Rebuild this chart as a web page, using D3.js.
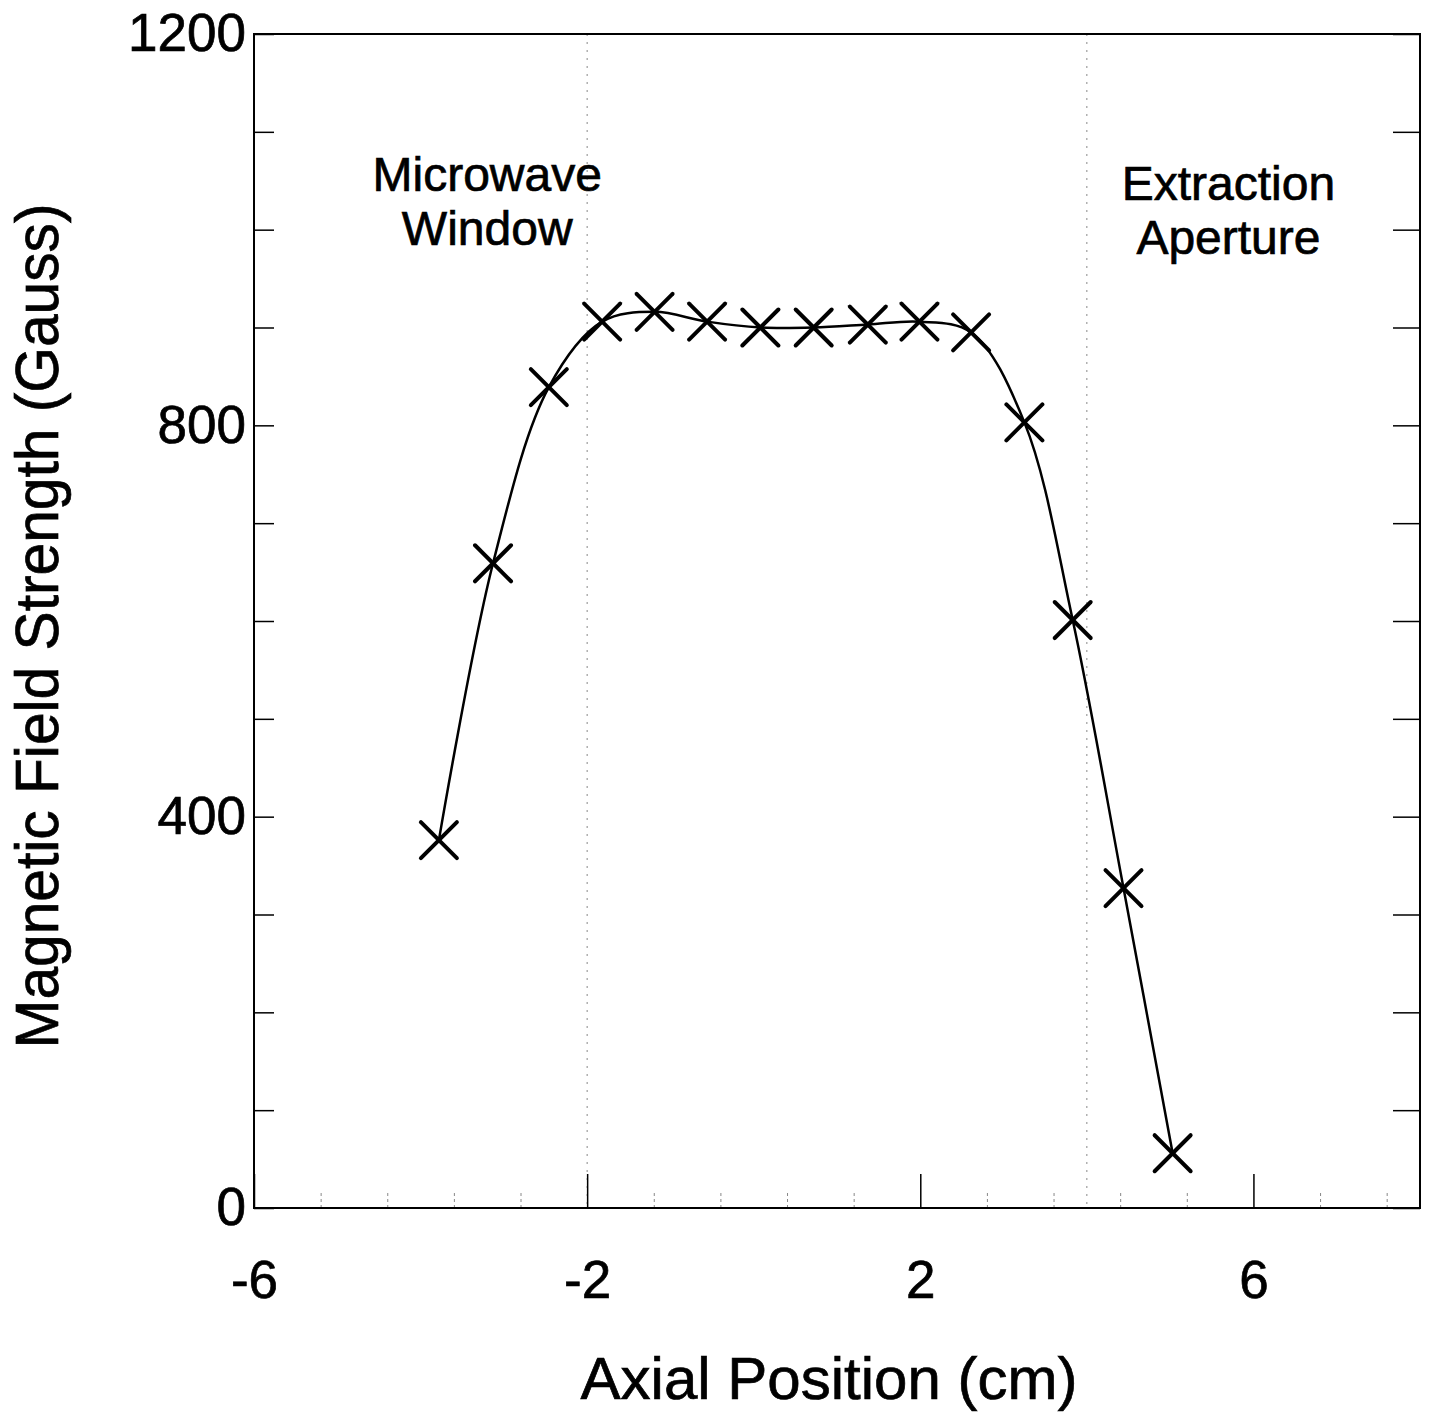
<!DOCTYPE html>
<html>
<head>
    <title>Magnetic Field Strength vs Axial Position</title>
    <script src="https://cdnjs.cloudflare.com/ajax/libs/d3/7.8.5/d3.min.js"></script>
    <style>
        body { margin: 0; background: #fff; }
        text { font-family: "Liberation Sans", Arial, Helvetica, sans-serif; fill: #000; stroke: #000; stroke-width: 0.7; }
        .frame { fill: none; stroke: #000; stroke-width: 2; }
        .tick line { stroke: #000; stroke-width: 1.5; }
        .minor .tick line { stroke: #888; stroke-width: 1; stroke-dasharray: 3 3; }
        .grid-line { stroke: #888; stroke-width: 1; stroke-dasharray: 2 6; }
        .field-line { fill: none; stroke: #000; stroke-width: 2.5; }
        .marker { stroke: #000; stroke-width: 4; stroke-linecap: round; }
    </style>
</head>
<body>
    <div id="chart"></div>
    <script>
        // Measured points (cm, Gauss)
        const axialPos = [-3.78, -3.13, -2.46, -1.82, -1.19, -0.56, 0.08, 0.72, 1.37, 1.99, 2.61, 3.25, 3.83, 4.44, 5.03];
        const fieldGauss = [376, 659, 839, 906, 916, 906, 900, 900, 903, 906, 895, 803, 601, 327, 56];

        const xMajorTicks = [-6, -2, 2, 6];
        const xMinorTicks = [-5.2, -4.4, -3.6, -2.8, -1.2, -0.4, 0.4, 1.2, 2.8, 3.6, 4.4, 5.2, 6.8, 7.6];
        const yMajorTicks = [0, 400, 800, 1200];
        const yMinorTicks = [100, 200, 300, 500, 600, 700, 900, 1000, 1100];
        const gridPositions = [-2, 4];

        const annotations = [
            { lines: ['Microwave', 'Window'], x: -3.2, y: 1040 },
            { lines: ['Extraction', 'Aperture'], x: 5.7, y: 1030 }
        ];

        const W = 1443, H = 1418;
        const margin = { top: 34, right: 23, bottom: 210, left: 254 };
        const width = W - margin.left - margin.right;
        const height = H - margin.top - margin.bottom;

        const svg = d3.select('#chart')
            .append('svg')
            .attr('width', W)
            .attr('height', H)
            .append('g')
            .attr('transform', `translate(${margin.left},${margin.top})`);

        const x = d3.scaleLinear().domain([-6, 8]).range([0, width]);
        const y = d3.scaleLinear().domain([0, 1200]).range([height, 0]);

        // dotted vertical guides
        svg.selectAll('.grid-line')
            .data(gridPositions)
            .enter()
            .append('line')
            .attr('class', 'grid-line')
            .attr('x1', d => x(d)).attr('x2', d => x(d))
            .attr('y1', 0).attr('y2', height);

        // inward ticks
        svg.append('g')
            .attr('transform', `translate(0,${height})`)
            .call(d3.axisBottom(x).tickValues(xMajorTicks).tickSize(-34).tickFormat(''))
            .call(g => g.select('.domain').remove());
        svg.append('g')
            .attr('class', 'minor')
            .attr('transform', `translate(0,${height})`)
            .call(d3.axisBottom(x).tickValues(xMinorTicks).tickSize(-18).tickFormat(''))
            .call(g => g.select('.domain').remove());
        svg.append('g')
            .call(d3.axisLeft(y).tickValues(yMinorTicks.concat(yMajorTicks)).tickSize(-20).tickFormat(''))
            .call(g => g.select('.domain').remove());
        svg.append('g')
            .attr('transform', `translate(${width},0)`)
            .call(d3.axisRight(y).tickValues(yMinorTicks.concat(yMajorTicks)).tickSize(-27).tickFormat(''))
            .call(g => g.select('.domain').remove());

        // tick labels
        svg.append('g')
            .attr('transform', `translate(0,${height})`)
            .call(d3.axisBottom(x).tickValues(xMajorTicks).tickSize(0).tickPadding(52).tickFormat(d => String(d)))
            .call(g => g.select('.domain').remove())
            .selectAll('text')
            .style('font-size', '53px');
        svg.append('g')
            .call(d3.axisLeft(y).tickValues(yMajorTicks).tickSize(0).tickPadding(8).tickFormat(d => String(d)))
            .call(g => g.select('.domain').remove())
            .selectAll('text')
            .style('font-size', '53px');

        // frame
        svg.append('rect')
            .attr('class', 'frame')
            .attr('x', 0).attr('y', 0)
            .attr('width', width).attr('height', height);

        // smooth field profile
        const line = d3.line()
            .x((d, i) => x(axialPos[i]))
            .y(d => y(d))
            .curve(d3.curveCatmullRom.alpha(0.5));
        svg.append('path')
            .attr('class', 'field-line')
            .attr('d', line(fieldGauss));

        // X markers
        const s = 18;
        const mk = svg.selectAll('.mk')
            .data(fieldGauss)
            .enter()
            .append('g')
            .attr('class', 'mk')
            .attr('transform', (d, i) => `translate(${x(axialPos[i])},${y(d)})`);
        mk.append('line').attr('class', 'marker')
            .attr('x1', -s).attr('y1', -s).attr('x2', s).attr('y2', s);
        mk.append('line').attr('class', 'marker')
            .attr('x1', -s).attr('y1', s).attr('x2', s).attr('y2', -s);

        // annotations
        annotations.forEach(a => {
            const t = svg.append('text')
                .attr('x', x(a.x))
                .attr('y', y(a.y))
                .attr('text-anchor', 'middle')
                .style('font-size', '48px');
            a.lines.forEach((l, i) => {
                t.append('tspan')
                    .attr('x', x(a.x))
                    .attr('dy', i === 0 ? 0 : 54)
                    .text(l);
            });
        });

        // axis titles
        svg.append('text')
            .attr('x', 829 - margin.left)
            .attr('y', height + 191)
            .attr('text-anchor', 'middle')
            .style('font-size', '60px')
            .text('Axial Position (cm)');

        svg.append('text')
            .attr('transform', `translate(${58 - margin.left},${626 - margin.top}) rotate(-90)`)
            .attr('text-anchor', 'middle')
            .attr('textLength', 845)
            .attr('lengthAdjust', 'spacingAndGlyphs')
            .style('font-size', '62px')
            .text('Magnetic Field Strength (Gauss)');
    </script>
</body>
</html>
